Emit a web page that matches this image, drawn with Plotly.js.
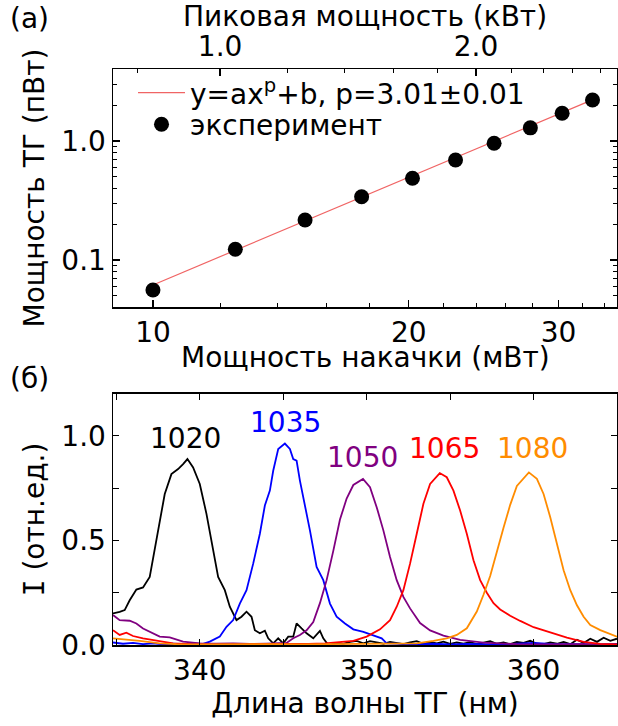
<!DOCTYPE html>
<html>
<head>
<meta charset="utf-8">
<script src="https://cdn.plot.ly/plotly-3.0.1.min.js"></script>
<style>html,body{margin:0;padding:0;background:#fff;}#chart{width:618px;height:726px;}</style>
</head>
<body>
<div id="chart"></div>
<script>
// ---- Panel (а): SHG power vs pump power ----
const pumpPower = [10.0, 12.5, 15.1, 17.6, 20.2, 22.7, 25.2, 27.8, 30.3, 32.9];   // мВт
const shgPower  = [0.056, 0.123, 0.217, 0.340, 0.486, 0.692, 0.956, 1.29, 1.71, 2.21]; // пВт
const fitX = [10.0, 32.4];
const fitY = [0.0617, 2.12];
const fitLabel = "y=ax<sup>p</sup>+b, p=3.01±0.01";
const expLabel = "эксперимент";

const pumpTickVals = [10, 20, 30];
const pumpTickText = ["10", "20", "30"];
const pumpMinorVals = [12, 14, 16, 18, 22, 24, 26, 28, 32, 34];
const peakTickVals = [1, 2];
const peakTickText = ["1.0", "2.0"];
const peakMinorVals = [0.8, 1.2, 1.4, 1.6, 1.8, 2.2, 2.4, 2.6, 2.8];
const shgTickVals = [0.1, 1];
const shgTickText = ["0.1", "1.0"];
const shgMinorVals = [0.05, 0.06, 0.07, 0.08, 0.09, 0.2, 0.3, 0.4, 0.5, 0.6, 0.7, 0.8, 0.9, 2, 3, 4];

// ---- Panel (б): SHG spectra ----
const wl1020 = [334.8, 335.2, 335.5, 335.8, 336.2, 336.6, 337.0, 337.3, 337.6, 337.9, 338.3, 338.7, 339.0, 339.26, 339.6, 340.0, 340.4, 340.8, 341.1, 341.5, 341.8, 342.2, 342.5, 342.8, 343.1, 343.3, 343.6, 343.9, 344.1, 344.4, 344.7, 345.0, 345.3, 345.6, 345.8, 346.1, 346.4, 346.8, 347.2, 347.4, 347.7,
  348.2, 348.6, 349.0, 349.4, 349.8, 350.2, 350.6, 351.0, 351.4, 351.8, 352.2, 352.6, 353.0, 353.4, 353.8, 354.2, 354.6, 355.0, 355.4, 355.8, 356.2, 356.6, 357.0, 357.4, 357.8, 358.2, 358.6, 359.0, 359.4, 359.8, 360.2, 360.6, 361.0, 361.4, 361.8, 362.2, 362.6, 363.0, 363.4, 363.8, 364.2, 364.6, 365.0];
const int1020 = [0.151, 0.158, 0.167, 0.214, 0.265, 0.275, 0.325, 0.452, 0.58, 0.722, 0.817, 0.841, 0.865, 0.889, 0.849, 0.77, 0.627, 0.452, 0.325, 0.262, 0.183, 0.119, 0.135, 0.159, 0.135, 0.071, 0.056, 0.068, 0.032, 0.008, 0.032, 0.008, 0.04, 0.04, 0.103, 0.079, 0.056, 0.032, 0.068, 0.032, 0.0,
  0.01, 0.005, 0.015, 0.02, 0.008, 0.018, 0.012, 0.006, 0.015, 0.01, 0.004, 0.012, 0.018, 0.006, 0.015, 0.008, 0.016, 0.005, 0.012, 0.007, 0.014, 0.004, 0.01, 0.018, 0.006, 0.012, 0.004, 0.015, 0.01, 0.02, 0.006, 0.004, 0.012, 0.006, 0.015, 0.004, 0.025, 0.01, 0.03, 0.015, 0.035, 0.02, 0.03];

const wl1035 = [334.8, 335.4, 336.0, 336.6, 337.2, 337.8, 338.4, 339.0, 339.6, 340.2, 340.6, 341.2, 341.6, 342.0, 342.4, 342.8, 343.2, 343.6, 343.9, 344.2, 344.4, 344.7, 345.1, 345.4, 345.6, 345.8, 346.0, 346.3, 346.6, 347.0, 347.4, 347.8, 348.2, 348.7, 349.2, 349.8, 350.4, 350.9, 351.2, 352.0, 353.0, 354.0, 355.0, 356.0, 357.0, 358.0, 359.0, 360.0, 361.0, 362.0, 363.0, 364.0, 365.0];
const int1035 = [0.012, 0.006, 0.01, 0.004, 0.008, 0.003, 0.006, 0.004, 0.008, 0.005, 0.016, 0.04, 0.087, 0.119, 0.198, 0.262, 0.389, 0.532, 0.667, 0.738, 0.833, 0.937, 0.963, 0.937, 0.889, 0.881, 0.786, 0.675, 0.548, 0.373, 0.31, 0.198, 0.135, 0.103, 0.075, 0.063, 0.048, 0.032, 0.008, 0.005, 0.003, 0.006, 0.003, 0.005, 0.004, 0.003, 0.006, 0.01, 0.005, 0.004, 0.006, 0.003, 0.005];

const wl1050 = [334.8, 335.2, 335.8, 336.2, 336.6, 337.0, 337.6, 338.2, 339.0, 340.0, 341.0, 342.0, 343.0, 344.0, 345.2, 345.6, 346.0, 346.4, 346.8, 347.2, 347.6, 348.0, 348.4, 348.8, 349.2, 349.78, 350.2, 350.6, 351.0, 351.4, 351.8, 352.2, 352.6, 353.2, 353.8, 354.6, 355.6, 357.0, 358.0, 359.0, 360.0, 361.0, 362.0, 363.0, 364.0, 365.0];
const int1050 = [0.143, 0.119, 0.116, 0.103, 0.079, 0.063, 0.04, 0.036, 0.016, 0.008, 0.006, 0.008, 0.005, 0.007, 0.01, 0.032, 0.048, 0.07, 0.11, 0.2, 0.31, 0.45, 0.6, 0.7, 0.765, 0.794, 0.754, 0.659, 0.548, 0.421, 0.31, 0.23, 0.175, 0.105, 0.07, 0.045, 0.024, 0.011, 0.006, 0.004, 0.003, 0.004, 0.003, 0.004, 0.003, 0.003];

const wl1065 = [334.8, 335.2, 335.6, 336.0, 336.6, 337.4, 338.4, 339.5, 340.5, 341.5, 342.5, 343.5, 344.5, 345.5, 346.5, 347.5, 348.3, 349.2, 350.0, 350.8, 351.4, 351.8, 352.2, 352.6, 353.0, 353.4, 353.8, 354.38, 354.8, 355.2, 355.6, 356.0, 356.4, 356.8, 357.2, 357.6, 358.0, 358.6, 359.2, 360.0, 361.0, 362.0, 363.0, 364.0, 365.0];
const int1065 = [0.071, 0.048, 0.059, 0.043, 0.032, 0.02, 0.008, 0.004, 0.003, 0.004, 0.003, 0.005, 0.004, 0.006, 0.005, 0.008, 0.012, 0.02, 0.04, 0.075, 0.119, 0.183, 0.262, 0.389, 0.532, 0.675, 0.77, 0.822, 0.802, 0.738, 0.643, 0.532, 0.405, 0.31, 0.25, 0.2, 0.17, 0.14, 0.115, 0.085, 0.06, 0.035, 0.015, 0.005, 0.003];

const wl1080 = [334.8, 335.6, 336.4, 337.6, 338.6, 340.0, 341.5, 343.0, 344.5, 346.0, 347.5, 349.0, 350.5, 352.0, 353.0, 354.0, 354.8, 355.4, 356.0, 356.6, 357.0, 357.4, 357.8, 358.2, 358.6, 359.0, 359.72, 360.2, 360.6, 361.0, 361.4, 361.8, 362.2, 362.6, 363.0, 363.4, 364.0, 364.6, 365.0];
const int1080 = [0.032, 0.027, 0.02, 0.008, 0.004, 0.003, 0.004, 0.003, 0.004, 0.003, 0.004, 0.006, 0.004, 0.005, 0.008, 0.02, 0.032, 0.048, 0.08, 0.16, 0.24, 0.33, 0.45, 0.56, 0.67, 0.76, 0.825, 0.794, 0.722, 0.611, 0.484, 0.357, 0.262, 0.19, 0.135, 0.095, 0.071, 0.052, 0.04];

const seriesNames = ["1020", "1035", "1050", "1065", "1080"];
const seriesColors = ["#000000", "#0000ff", "#800080", "#ff0000", "#ff8c00"];
const labelX = [339.12, 345.12, 349.74, 354.66, 359.94];
const labelY = [0.986, 1.062, 0.895, 0.938, 0.938];

const FONT = "DejaVu Sans, Verdana, sans-serif";
const FS = 28;

const spectraX = [wl1020, wl1035, wl1050, wl1065, wl1080];
const spectraY = [int1020, int1035, int1050, int1065, int1080];

const traces = [
  {x: fitX, y: fitY, type: "scatter", mode: "lines", name: fitLabel,
   line: {color: "#f06464", width: 1.2}, xaxis: "x", yaxis: "y", legend: "legend"},
  {x: pumpPower, y: shgPower, type: "scatter", mode: "markers", name: expLabel,
   marker: {color: "#000", size: 15}, xaxis: "x", yaxis: "y", legend: "legend2"},
  // invisible carrier trace so that the top (peak power) axis is drawn
  {x: peakTickVals, y: shgTickVals, type: "scatter", mode: "markers", marker: {opacity: 0},
   xaxis: "x2", yaxis: "y", showlegend: false, hoverinfo: "skip"}
];
spectraX.forEach((xs, i) => {
  traces.push({x: xs, y: spectraY[i], type: "scatter", mode: "lines", name: seriesNames[i],
    line: {color: seriesColors[i], width: 1.8}, xaxis: "x3", yaxis: "y3", showlegend: false});
});

const axBase = {showline: true, linecolor: "#000", linewidth: 1.5, ticks: "inside",
  tickcolor: "#000", tickwidth: 1.2, showgrid: false, zeroline: false,
  tickfont: {family: FONT, size: FS, color: "#000"}};

const annotations = [
  {text: "(а)", xref: "paper", yref: "paper", x: -0.165, y: 1.0885, xanchor: "center", yanchor: "middle",
   showarrow: false, font: {family: FONT, size: FS, color: "#000"}},
  {text: "(б)", xref: "paper", yref: "paper", x: -0.165, y: 0.4635, xanchor: "center", yanchor: "middle",
   showarrow: false, font: {family: FONT, size: FS, color: "#000"}},
  // x-axis title of panel (а), placed closer to its tick labels than Plotly's standoff allows
  {text: "Мощность накачки (мВт)", xref: "paper", yref: "paper", x: 0.5, y: 0.5, xanchor: "center", yanchor: "middle",
   showarrow: false, font: {family: FONT, size: FS, color: "#000"}}
];
seriesNames.forEach((n, i) => {
  annotations.push({text: n, xref: "x3", yref: "y3", x: labelX[i], y: labelY[i],
    xanchor: "center", yanchor: "middle", showarrow: false,
    font: {family: FONT, size: FS, color: seriesColors[i]}});
});

const legendBase = {xanchor: "left", yanchor: "middle", bgcolor: "rgba(0,0,0,0)", itemwidth: 47,
  font: {family: FONT, size: FS, color: "#000"}};

const layout = {
  width: 618, height: 726,
  margin: {l: 113, r: 1, t: 69, b: 81},
  paper_bgcolor: "#fff", plot_bgcolor: "#fff",
  font: {family: FONT, size: FS, color: "#000"},
  xaxis: Object.assign({}, axBase, {
    type: "log", range: [0.953, 1.546], domain: [0, 1], anchor: "y",
    tickmode: "array", tickvals: pumpTickVals, ticktext: pumpTickText, ticklen: 7,
    minor: {tickmode: "array", tickvals: pumpMinorVals, ticks: "inside", ticklen: 4, tickcolor: "#000", tickwidth: 1}
  }),
  xaxis2: Object.assign({}, axBase, {
    type: "log", range: [-0.126, 0.467], overlaying: "x", side: "top", anchor: "y",
    tickmode: "array", tickvals: peakTickVals, ticktext: peakTickText, ticklen: 7,
    minor: {tickmode: "array", tickvals: peakMinorVals, ticks: "inside", ticklen: 4, tickcolor: "#000", tickwidth: 1},
    title: {text: "Пиковая мощность (кВт)", font: {family: FONT, size: FS}, standoff: 2}
  }),
  yaxis: Object.assign({}, axBase, {
    type: "log", range: [-1.395, 0.605], domain: [0.5868, 1], anchor: "x", mirror: "ticks",
    tickmode: "array", tickvals: shgTickVals, ticktext: shgTickText, ticklen: 7,
    minor: {tickmode: "array", tickvals: shgMinorVals, ticks: "inside", ticklen: 4, tickcolor: "#000", tickwidth: 1},
    title: {text: "Мощность ТГ (пВт)", font: {family: FONT, size: FS}, standoff: 8}
  }),
  xaxis3: Object.assign({}, axBase, {
    range: [334.8, 365], domain: [0, 1], anchor: "y3", mirror: "ticks",
    tick0: 0, dtick: 10, ticklen: 6,
    minor: {dtick: 5, ticks: "inside", ticklen: 6, tickcolor: "#000", tickwidth: 1.2},
    title: {text: "Длина волны ТГ (нм)", font: {family: FONT, size: FS}, standoff: 2}
  }),
  yaxis3: Object.assign({}, axBase, {
    range: [0, 1.2], domain: [0, 0.4358], anchor: "x3", mirror: "ticks",
    tick0: 0, dtick: 0.5, tickformat: ".1f", ticklen: 6,
    minor: {dtick: 0.25, ticks: "inside", ticklen: 6, tickcolor: "#000", tickwidth: 1.2},
    title: {text: "<span style=\"font-family:'DejaVu Sans Mono'\">I</span> (отн.ед.)", font: {family: FONT, size: FS}, standoff: 8}
  }),
  legend: Object.assign({}, legendBase, {x: 0.0397, y: 0.9585}),
  legend2: Object.assign({}, legendBase, {x: 0.0397, y: 0.9035}),
  showlegend: true,
  annotations: annotations
};

Plotly.newPlot("chart", traces, layout, {displayModeBar: false, staticPlot: true});
</script>
</body>
</html>
